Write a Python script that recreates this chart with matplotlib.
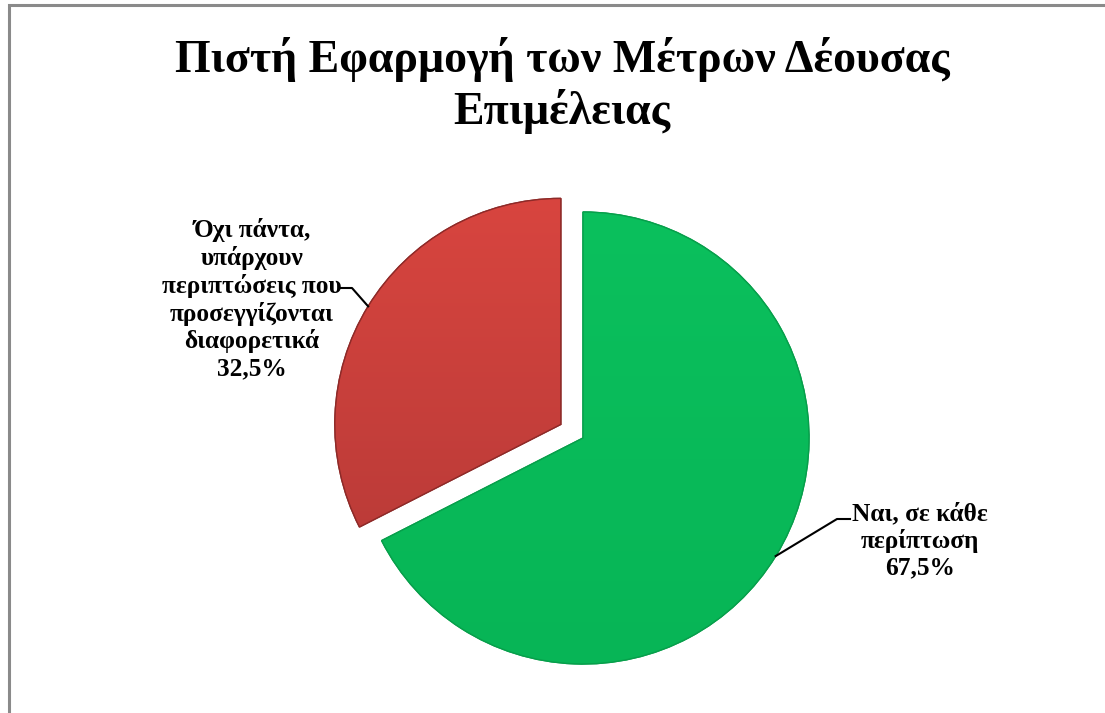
import numpy as np
import matplotlib.pyplot as plt
from matplotlib.colors import to_rgb
from matplotlib.patches import Rectangle, Wedge
plt.switch_backend("agg")

# data
labels = ["Ναι, σε κάθε\nπερίπτωση", "Όχι πάντα,\nυπάρχουν\nπεριπτώσεις που\nπροσεγγίζονται\nδιαφορετικά"]
values = [67.5, 32.5]
colors = ["#08bc5a", "#d2423f"]
title = "Πιστή Εφαρμογή των Μέτρων Δέουσας\nΕπιμέλειας"

W, H = 1105, 713
fig = plt.figure(figsize=(W / 100, H / 100), dpi=100)
ax = fig.add_axes([0, 0, 1, 1])

serif = ["Liberation Serif", "DejaVu Serif"]

center = (583, H - 438)
radius = 226
wedges, _ = ax.pie(values, colors=colors, startangle=90, counterclock=False,
                   explode=[0, 26], center=center, radius=radius, frame=True,
                   wedgeprops=dict(linewidth=1.0))
ax.set_xlim(0, W)
ax.set_ylim(0, H)
ax.axis("off")

# light shading: vertical gradient clipped to each wedge
shades = [("#0bc05d", "#07b556"), ("#d8453f", "#b23836")]
edges = ["#079f4b", "#8e2a28"]
for w, (top, bot), ec in zip(wedges, shades, edges):
    w.set_edgecolor(ec)
    c0 = np.array(to_rgb(top))
    c1 = np.array(to_rgb(bot))
    t = np.linspace(0, 1, 256)[:, None]
    grad = (c0[None, :] * (1 - t) + c1[None, :] * t)[:, None, :]
    cx, cy = w.center
    r = w.r
    im = ax.imshow(grad, extent=(cx - r, cx + r, cy - r, cy + r), origin="upper",
                   aspect="auto", zorder=w.get_zorder() + 0.1)
    im.set_clip_path(w)
    ax.add_patch(Wedge(w.center, w.r, w.theta1, w.theta2, fill=False,
                       edgecolor=ec, linewidth=1.0, zorder=w.get_zorder() + 0.2))
ax.set_xlim(0, W)
ax.set_ylim(0, H)

# labels with leader lines attached at mid-angle of each wedge
pcts = [f"{v:.1f}".replace(".", ",") + "%" for v in values]
text_pos = [(920, H - 541), (252, H - 299)]
elbows = [(837, H - 519), (352, H - 288)]
ends = [(850, H - 519), (340, H - 288)]
for w, lab, pct, tp, el, en in zip(wedges, labels, pcts, text_pos, elbows, ends):
    mid = np.deg2rad((w.theta1 + w.theta2) / 2)
    px = w.center[0] + w.r * np.cos(mid)
    py = w.center[1] + w.r * np.sin(mid)
    ax.plot([px, el[0], en[0]], [py, el[1], en[1]], color="black", lw=1.5, zorder=5)
    ax.text(tp[0], tp[1], f"{lab}\n{pct}", ha="center", va="center",
            fontsize=18.3, fontweight="bold", family=serif, linespacing=1.2)

fig.text(562 / W, 1 - 85 / H, title, ha="center", va="center", fontsize=33,
         fontweight="bold", family=serif, linespacing=1.2)

# chart border (top and left visible)
fig.patches.append(Rectangle((9 / W, -0.1), 1.2, (H - 5) / H + 0.1, fill=False,
                             edgecolor="#8a8a8a", linewidth=2.2,
                             transform=fig.transFigure, figure=fig))

fig.savefig("out.png", dpi=100)
